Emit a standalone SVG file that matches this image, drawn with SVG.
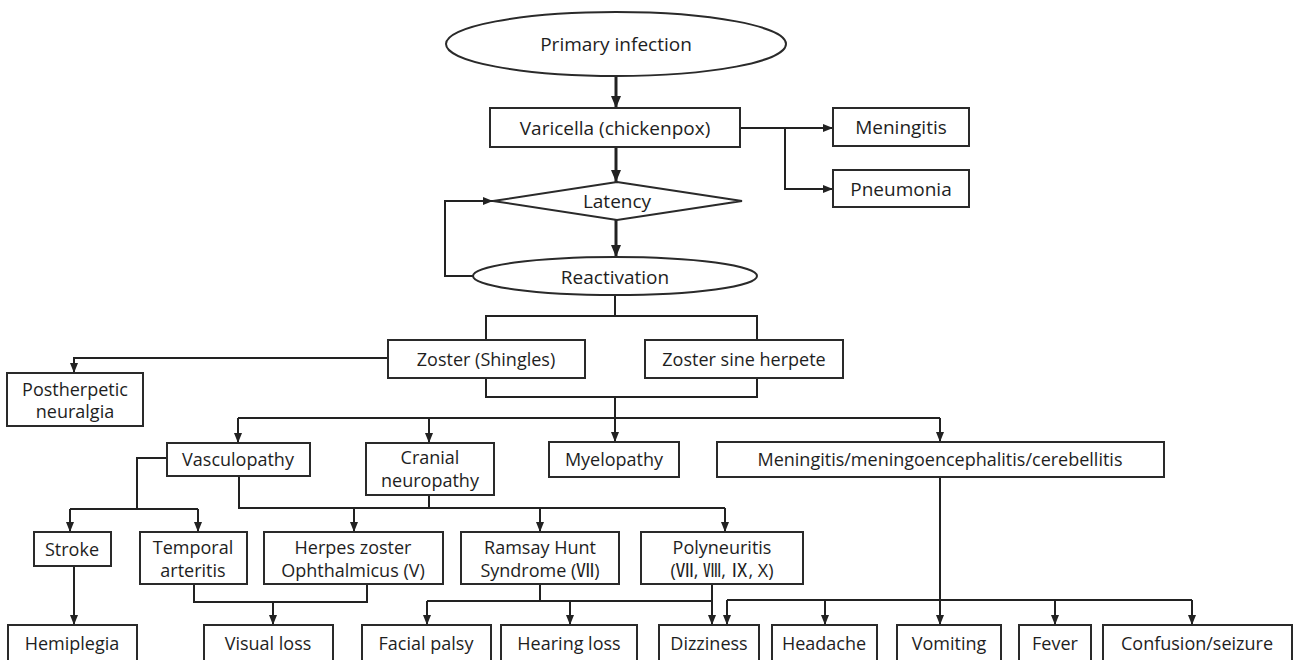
<svg xmlns="http://www.w3.org/2000/svg" width="1294" height="660" viewBox="0 0 1294 660">
<defs>
<marker id="ah" markerUnits="userSpaceOnUse" markerWidth="10" markerHeight="10" viewBox="0 0 10 10" refX="10" refY="5" orient="auto">
<path d="M0,1 L10,5 L0,9 Z" fill="#222"/>
</marker>
<marker id="ahb" markerUnits="userSpaceOnUse" markerWidth="12" markerHeight="12" viewBox="0 0 12 12" refX="12" refY="6" orient="auto">
<path d="M0,1 L12,6 L0,11 Z" fill="#222"/>
</marker>
</defs>
<style>
.n{fill:#fff;stroke:#2a2a2a;stroke-width:2}
.t{font-family:"Open Sans","Noto Sans CJK KR",sans-serif;font-size:18px;fill:#1e1e1e;text-anchor:middle;dominant-baseline:central}
.c{fill:none;stroke:#222;stroke-width:2}
.a{marker-end:url(#ah)}
.b{fill:none;stroke:#222;stroke-width:3;marker-end:url(#ahb)}
</style>
<rect width="1294" height="660" fill="#fff"/>
<g id="connectors">
<path class="b" d="M616,76 V108"/>
<path class="b" d="M616,147 V182"/>
<path class="b" d="M616,220 V257"/>
<path class="c a" d="M473,276 H445 V201 H493"/>
<path class="c a" d="M740,128 H833"/>
<path class="c a" d="M785,128 V189 H833"/>
<path class="c" d="M615,295 V316"/>
<path class="c" d="M486,340 V316 H757 V340"/>
<path class="c" d="M486,378 V397 H757 V378"/>
<path class="c" d="M615,397 V418"/>
<path class="c a" d="M388,358 H74 V373"/>
<path class="c" d="M238,418 H940"/>
<path class="c a" d="M238,418 V443"/>
<path class="c a" d="M429,418 V443"/>
<path class="c a" d="M615,418 V442"/>
<path class="c a" d="M940,418 V442"/>
<path class="c" d="M167,458 H137 V509"/>
<path class="c" d="M70,509 H198"/>
<path class="c a" d="M70,509 V532"/>
<path class="c a" d="M198,509 V532"/>
<path class="c" d="M239,476 V508 H725"/>
<path class="c" d="M429,495 V508"/>
<path class="c a" d="M354,508 V532"/>
<path class="c a" d="M540,508 V532"/>
<path class="c a" d="M725,508 V532"/>
<path class="c a" d="M74,566 V625"/>
<path class="c" d="M194,584 V602 H367 V584"/>
<path class="c a" d="M273,602 V625"/>
<path class="c" d="M540,584 V601"/>
<path class="c" d="M427,601 H712"/>
<path class="c a" d="M427,601 V625"/>
<path class="c a" d="M570,601 V625"/>
<path class="c a" d="M712,584 V625"/>
<path class="c a" d="M940,477 V625"/>
<path class="c" d="M727,600 H1192"/>
<path class="c a" d="M727,600 V625"/>
<path class="c a" d="M825,600 V625"/>
<path class="c a" d="M1055,600 V625"/>
<path class="c a" d="M1192,600 V625"/>
</g>
<g id="primary"><ellipse class="n" cx="616" cy="44" rx="170" ry="32"/><text class="t" x="616" y="44" style="font-size:19px">Primary infection</text></g>
<g id="varicella"><rect class="n" x="490" y="108" width="250" height="39"/><text class="t" x="615" y="128" style="font-size:19px">Varicella (chickenpox)</text></g>
<g id="latency"><polygon class="n" points="617,182 742,201 617,220 493,201"/><text class="t" x="617" y="201" style="font-size:19px">Latency</text></g>
<g id="reactivation"><ellipse class="n" cx="615" cy="276" rx="142" ry="19"/><text class="t" x="615" y="277" style="font-size:19px">Reactivation</text></g>
<g id="meningitis1"><rect class="n" x="833" y="108" width="136" height="38"/><text class="t" x="901" y="127" style="font-size:19px">Meningitis</text></g>
<g id="pneumonia"><rect class="n" x="833" y="170" width="136" height="37"/><text class="t" x="901" y="189" style="font-size:19px">Pneumonia</text></g>
<g id="zoster"><rect class="n" x="388" y="340" width="197" height="38"/><text class="t" x="486" y="359">Zoster (Shingles)</text></g>
<g id="zoster-sine"><rect class="n" x="645" y="340" width="198" height="38"/><text class="t" x="744" y="359">Zoster sine herpete</text></g>
<g id="postherpetic"><rect class="n" x="7" y="373" width="136" height="53"/><text class="t" x="75" y="389">Postherpetic</text><text class="t" x="75" y="411">neuralgia</text></g>
<g id="vasculopathy"><rect class="n" x="167" y="443" width="143" height="33"/><text class="t" x="238" y="459">Vasculopathy</text></g>
<g id="cranial"><rect class="n" x="366" y="443" width="128" height="52"/><text class="t" x="430" y="457">Cranial</text><text class="t" x="430" y="480">neuropathy</text></g>
<g id="myelopathy"><rect class="n" x="549" y="442" width="130" height="35"/><text class="t" x="614" y="459">Myelopathy</text></g>
<g id="meningitis2"><rect class="n" x="717" y="442" width="447" height="35"/><text class="t" x="940" y="459">Meningitis/meningoencephalitis/cerebellitis</text></g>
<g id="stroke"><rect class="n" x="34" y="532" width="77" height="34"/><text class="t" x="72" y="549">Stroke</text></g>
<g id="temporal"><rect class="n" x="140" y="532" width="107" height="52"/><text class="t" x="193" y="547">Temporal</text><text class="t" x="193" y="570">arteritis</text></g>
<g id="hzo"><rect class="n" x="264" y="532" width="179" height="52"/><text class="t" x="353" y="547">Herpes zoster</text><text class="t" x="353" y="570">Ophthalmicus (V)</text></g>
<g id="ramsay"><rect class="n" x="461" y="532" width="158" height="52"/><text class="t" x="540" y="547">Ramsay Hunt</text><text class="t" x="540" y="570">Syndrome (Ⅶ)</text></g>
<g id="polyneuritis"><rect class="n" x="641" y="532" width="162" height="52"/><text class="t" x="722" y="547">Polyneuritis</text><text class="t" x="722" y="570">(Ⅶ, Ⅷ, Ⅸ, X)</text></g>
<g id="hemiplegia"><rect class="n" x="8" y="625" width="129" height="45"/><text class="t" x="72" y="643">Hemiplegia</text></g>
<g id="visual"><rect class="n" x="204" y="625" width="129" height="45"/><text class="t" x="268" y="643">Visual loss</text></g>
<g id="facial"><rect class="n" x="362" y="625" width="129" height="45"/><text class="t" x="426" y="643">Facial palsy</text></g>
<g id="hearing"><rect class="n" x="501" y="625" width="136" height="45"/><text class="t" x="569" y="643">Hearing loss</text></g>
<g id="dizziness"><rect class="n" x="659" y="625" width="100" height="45"/><text class="t" x="709" y="643">Dizziness</text></g>
<g id="headache"><rect class="n" x="772" y="625" width="105" height="45"/><text class="t" x="824" y="643">Headache</text></g>
<g id="vomiting"><rect class="n" x="897" y="625" width="104" height="45"/><text class="t" x="949" y="643">Vomiting</text></g>
<g id="fever"><rect class="n" x="1019" y="625" width="72" height="45"/><text class="t" x="1055" y="643">Fever</text></g>
<g id="confusion"><rect class="n" x="1103" y="625" width="189" height="45"/><text class="t" x="1197" y="643">Confusion/seizure</text></g>
</svg>
